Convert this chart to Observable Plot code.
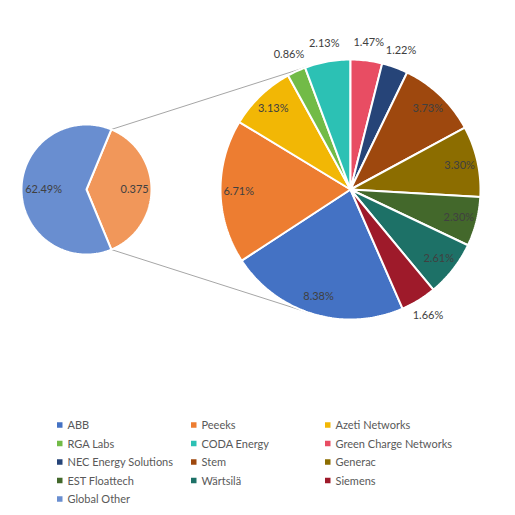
<!DOCTYPE html>
<html>
<head>
<meta charset="utf-8">
<script src="https://cdn.jsdelivr.net/npm/d3@7"></script>
<script src="https://cdn.jsdelivr.net/npm/@observablehq/plot@0.6"></script>
<style>
  body { margin: 0; background: #fff; }
</style>
</head>
<body>
<div id="chart"></div>
<script>
// vendors shown in the second (split) pie, in legend order
const vendors = ["ABB", "Peeeks", "Azeti Networks", "RGA Labs", "CODA Energy", "Green Charge Networks",
  "NEC Energy Solutions", "Stem", "Generac", "EST Floattech", "Wärtsilä", "Siemens"];
const shares = [8.38, 6.71, 3.13, 0.86, 2.13, 1.47, 1.22, 3.73, 3.30, 2.30, 2.61, 1.66];
const vendorColors = ["#4472C4", "#ED7D31", "#F2B705", "#72BB47", "#2CC1B4", "#E84D63",
  "#264478", "#9E480E", "#8C6D00", "#43682B", "#1D7167", "#9E1A2A"];

const otherLabel = "Global Other";
const otherShare = 62.49;
const otherColor = "#698ED0";
const splitKey = "split";
const splitColor = "#F1975A";

// layout (pixels)
const W = 515, H = 515;
const small = {cx: 86, cy: 189, r: 65};
const big = {cx: 350, cy: 189, r: 130};

const splitTotal = d3.sum(shares);
const total = splitTotal + otherShare;

// polygon for one slice, angle 0 at 12 o'clock, clockwise
function slice(key, a0, a1, c) {
  const n = Math.max(2, Math.ceil((a1 - a0) / (Math.PI / 180)));
  const pts = [{key, x: c.cx, y: c.cy}];
  for (let i = 0; i <= n; i++) {
    const a = a0 + (a1 - a0) * i / n;
    pts.push({key, x: c.cx + c.r * Math.sin(a), y: c.cy - c.r * Math.cos(a)});
  }
  pts.push({key, x: c.cx, y: c.cy});
  return pts;
}
const polar = (c, a, r) => ({x: c.cx + r * Math.sin(a), y: c.cy - r * Math.cos(a)});

// big pie: Green Charge Networks begins at the top
const offset = -2 * Math.PI * d3.sum(shares.slice(0, 5)) / splitTotal;
const bigArcs = d3.pie().sort(null).value(d => d.share)
  .startAngle(offset).endAngle(offset + 2 * Math.PI)(vendors.map((name, i) => ({name, share: shares[i]})));

let slices = [];
let labels = [];
bigArcs.forEach(a => {
  slices = slices.concat(slice(a.data.name, a.startAngle, a.endAngle, big));
  const mid = (a.startAngle + a.endAngle) / 2;
  const outside = a.data.share < 2.2;
  labels.push({...polar(big, mid, outside ? big.r + 18 : big.r * 0.86), text: d3.format(".2f")(a.data.share) + "%"});
});

// small pie: split slice centred on 3 o'clock
const f = splitTotal / total;
const s0 = Math.PI / 2 - Math.PI * f, s1 = Math.PI / 2 + Math.PI * f;
slices = slices.concat(slice(splitKey, s0, s1, small));
slices = slices.concat(slice(otherLabel, s1, s0 + 2 * Math.PI, small));
labels.push({...polar(small, Math.PI / 2, small.r * 0.74), text: String(+(splitTotal / 100).toFixed(3))});
labels.push({...polar(small, (s1 + s0 + 2 * Math.PI) / 2, small.r * 0.66), text: d3.format(".2f")(otherShare) + "%"});

// connector lines: from split slice edges, tangent to the big pie
function tangent(p, c, upper) {
  const vx = p.x - c.cx, vy = p.y - c.cy;
  const d = Math.hypot(vx, vy), base = Math.atan2(vy, vx), al = Math.acos(c.r / d);
  const t = [base + al, base - al].map(b => ({x: c.cx + c.r * Math.cos(b), y: c.cy + c.r * Math.sin(b)}));
  return upper ? (t[0].y < t[1].y ? t[0] : t[1]) : (t[0].y > t[1].y ? t[0] : t[1]);
}
const pTop = polar(small, s0, small.r), pBot = polar(small, s1, small.r);
const tTop = tangent(pTop, big, true), tBot = tangent(pBot, big, false);
const connectors = [
  {x1: pTop.x, y1: pTop.y, x2: tTop.x, y2: tTop.y},
  {x1: pBot.x, y1: pBot.y, x2: tBot.x, y2: tBot.y}
];

// legend, three columns
const legendNames = vendors.concat([otherLabel]);
const legend = legendNames.map((name, k) => ({name, x: 57 + (k % 3) * 134, y: 425 + Math.floor(k / 3) * 18.5}));

const chart = Plot.plot({
  width: W,
  height: H,
  margin: 0,
  x: {domain: [0, W], range: [0, W], axis: null},
  y: {domain: [0, H], range: [0, H], axis: null},
  color: {
    domain: vendors.concat([otherLabel, splitKey]),
    range: vendorColors.concat([otherColor, splitColor])
  },
  style: {fontFamily: "Lato, sans-serif", fontSize: "11px", background: "#fff"},
  marks: [
    Plot.link(connectors, {x1: "x1", y1: "y1", x2: "x2", y2: "y2", stroke: "#A6A6A6", strokeWidth: 1}),
    Plot.line(slices, {x: "x", y: "y", z: "key", fill: "key", stroke: "white", strokeWidth: 2, strokeLinejoin: "miter", curve: "linear"}),
    Plot.text(labels, {x: "x", y: "y", text: "text", fill: "#404040", fontSize: 11}),
    Plot.rect(legend, {x1: d => d.x, x2: d => d.x + 5.5, y1: d => d.y - 2.75, y2: d => d.y + 2.75, fill: "name"}),
    Plot.text(legend, {x: d => d.x + 10, y: "y", text: "name", textAnchor: "start", fill: "#595959", fontSize: 11})
  ]
});

d3.select("#chart").append(() => chart);
</script>
</body>
</html>
